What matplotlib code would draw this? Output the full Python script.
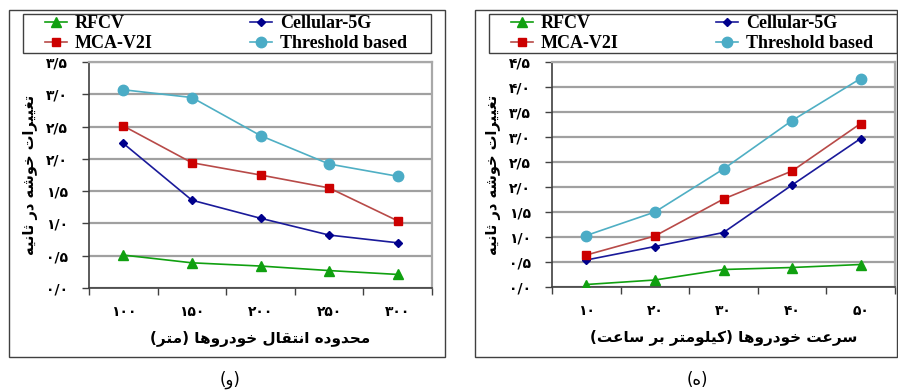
import matplotlib
matplotlib.use('Agg')
import matplotlib.pyplot as plt
from matplotlib.patches import Rectangle
from matplotlib.ticker import FixedLocator, NullFormatter

# data for both panels
range_labels = ['۱۰۰', '۱۵۰', '۲۰۰', '۲۵۰', '۳۰۰']
speed_labels = ['۱۰', '۲۰', '۳۰', '۴۰', '۵۰']

range_rfcv = [0.51, 0.39, 0.34, 0.27, 0.21]
range_cellular = [2.24, 1.36, 1.08, 0.82, 0.70]
range_mca = [2.51, 1.94, 1.75, 1.55, 1.04]
range_threshold = [3.07, 2.95, 2.36, 1.92, 1.73]

speed_rfcv = [0.05, 0.14, 0.35, 0.39, 0.45]
speed_cellular = [0.54, 0.81, 1.09, 2.04, 2.97]
speed_mca = [0.64, 1.02, 1.76, 2.32, 3.27]
speed_threshold = [1.03, 1.50, 2.36, 3.33, 4.17]

range_yticks = ['۰/۰', '۰/۵', '۱/۰', '۱/۵', '۲/۰', '۲/۵', '۳/۰', '۳/۵']
speed_yticks = range_yticks + ['۴/۰', '۴/۵']

ylabel_text = 'تغییرات خوشه در ثانیه'
range_xlabel = 'محدوده انتقال خودروها (متر)'
speed_xlabel = 'سرعت خودروها (کیلومتر بر ساعت)'

# arabic presentation forms: isolated, final, initial, medial
FORMS = {
    'ا': ('\uFE8D', '\uFE8E', None, None),
    'ب': ('\uFE8F', '\uFE90', '\uFE91', '\uFE92'),
    'ت': ('\uFE95', '\uFE96', '\uFE97', '\uFE98'),
    'ث': ('\uFE99', '\uFE9A', '\uFE9B', '\uFE9C'),
    'ح': ('\uFEA1', '\uFEA2', '\uFEA3', '\uFEA4'),
    'خ': ('\uFEA5', '\uFEA6', '\uFEA7', '\uFEA8'),
    'د': ('\uFEA9', '\uFEAA', None, None),
    'ر': ('\uFEAD', '\uFEAE', None, None),
    'س': ('\uFEB1', '\uFEB2', '\uFEB3', '\uFEB4'),
    'ش': ('\uFEB5', '\uFEB6', '\uFEB7', '\uFEB8'),
    'ع': ('\uFEC9', '\uFECA', '\uFECB', '\uFECC'),
    'غ': ('\uFECD', '\uFECE', '\uFECF', '\uFED0'),
    'ق': ('\uFED5', '\uFED6', '\uFED7', '\uFED8'),
    'ل': ('\uFEDD', '\uFEDE', '\uFEDF', '\uFEE0'),
    'م': ('\uFEE1', '\uFEE2', '\uFEE3', '\uFEE4'),
    'ن': ('\uFEE5', '\uFEE6', '\uFEE7', '\uFEE8'),
    'ه': ('\uFEE9', '\uFEEA', '\uFEEB', '\uFEEC'),
    'و': ('\uFEED', '\uFEEE', None, None),
    'ی': ('\uFBFC', '\uFBFD', '\uFBFE', '\uFBFF'),
    'ک': ('\uFB8E', '\uFB8F', '\uFB90', '\uFB91'),
}


def farsi(text):
    # join letters, then flip to visual order
    out = []
    for i, ch in enumerate(text):
        if ch not in FORMS:
            out.append(ch)
            continue
        prev = text[i - 1] if i > 0 else ''
        nxt = text[i + 1] if i + 1 < len(text) else ''
        join_prev = prev in FORMS and FORMS[prev][2] is not None
        join_next = nxt in FORMS and FORMS[ch][2] is not None
        iso, fin, ini, med = FORMS[ch]
        if join_prev and join_next:
            out.append(med)
        elif join_prev:
            out.append(fin)
        elif join_next:
            out.append(ini)
        else:
            out.append(iso)
    swap = {'(': ')', ')': '('}
    return ''.join(swap.get(c, c) for c in reversed(out))


plt.rcParams['font.family'] = ['DejaVu Sans']

W, H = 898, 390
fig = plt.figure(figsize=(W / 100, H / 100), dpi=100)


def px(x0, y0, x1, y1):
    return [x0 / W, 1 - y1 / H, (x1 - x0) / W, (y1 - y0) / H]


def frame(x0, y0, x1, y1):
    b = px(x0, y0, x1, y1)
    fig.add_artist(Rectangle((b[0], b[1]), b[2], b[3], transform=fig.transFigure,
                             fill=False, edgecolor='#404040', lw=1.0))


def panel(rect, box, legbox, xlabels, yticks, ymax, series, xlabel, caption, cap_x):
    frame(*box)
    frame(*legbox)
    ax = fig.add_axes(px(*rect))
    x = list(range(len(xlabels)))
    styles = [
        ('RFCV', '#10A010', '#10A010', '^', 7),
        ('Cellular-5G', '#1A1A9A', '#00008C', 'D', 4.5),
        ('MCA-V2I', '#B84A48', '#CC0000', 's', 5.5),
        ('Threshold based', '#4FAFC4', '#4BACC6', 'o', 7.5),
    ]
    lines = []
    for (name, lc, mc, mk, ms), vals in zip(styles, series):
        ln, = ax.plot(x, vals, color=lc, lw=1.2, marker=mk, ms=ms, mfc=mc, mec=mc,
                      label=name, zorder=3)
        lines.append(ln)
    ax.set_xlim(-0.5, len(xlabels) - 0.5)
    ax.set_ylim(0, ymax)
    yv = [i * 0.5 for i in range(len(yticks))]
    ax.set_yticks(yv)
    ax.set_yticklabels(yticks, fontsize=10, fontweight='bold')
    ax.yaxis.grid(True, color='#A0A0A0', lw=1.6, zorder=0)
    ax.set_axisbelow(True)
    ax.xaxis.set_major_locator(FixedLocator([i - 0.5 for i in range(len(xlabels) + 1)]))
    ax.xaxis.set_major_formatter(NullFormatter())
    ax.xaxis.set_minor_locator(FixedLocator(x))
    ax.set_xticklabels(xlabels, minor=True, fontsize=10, fontweight='bold')
    ax.tick_params(axis='x', which='major', direction='out', length=5, width=1, color='#404040')
    ax.tick_params(axis='x', which='minor', length=0, pad=12)
    ax.tick_params(axis='y', direction='out', length=5, width=1, color='#404040', pad=10)
    for s in ['left', 'bottom']:
        ax.spines[s].set_color('#404040')
        ax.spines[s].set_linewidth(1.2)
    for s in ['top', 'right']:
        ax.spines[s].set_color('#A8A8A8')
        ax.spines[s].set_linewidth(1.6)
    ax.set_xlabel(farsi(xlabel), fontsize=11, fontweight='bold', labelpad=9)
    ax.set_ylabel(farsi(ylabel_text), fontsize=10.5, fontweight='bold', labelpad=6)

    # legend: column-wise fill, so RFCV/MCA-V2I first then Cellular/Threshold
    order = [0, 2, 1, 3]
    ax.legend([lines[i] for i in order], [styles[i][0] for i in order],
              loc='upper left', bbox_to_anchor=((legbox[0] + 22) / W, 1 - (legbox[1] + 1) / H),
              bbox_transform=fig.transFigure, ncol=2, frameon=False,
              prop={'family': 'Liberation Serif', 'weight': 'bold', 'size': 13},
              handlelength=1.2, handletextpad=0.45, columnspacing=5.4,
              labelspacing=0.18, borderpad=0, borderaxespad=0)

    fig.text(cap_x / W, 1 - 380 / H, farsi(caption), ha='center', va='center',
             fontsize=12)
    return ax


panel((89, 62, 432, 288), (9, 10, 445, 357), (23, 14, 431, 53), range_labels,
      range_yticks, 3.5, [range_rfcv, range_cellular, range_mca, range_threshold],
      range_xlabel, '(و)', 230)
panel((552, 62, 895, 287), (475, 10, 897, 357), (489, 14, 897, 53), speed_labels,
      speed_yticks, 4.5, [speed_rfcv, speed_cellular, speed_mca, speed_threshold],
      speed_xlabel, '(ه)', 697)

fig.savefig('out.png', dpi=100)
